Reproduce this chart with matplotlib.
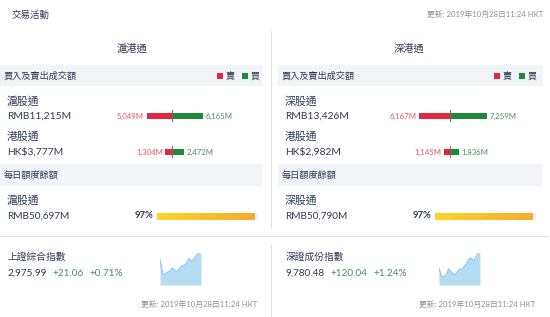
import matplotlib
matplotlib.use("Agg")
import matplotlib.pyplot as plt
import numpy as np
from matplotlib.patches import Rectangle
from matplotlib.lines import Line2D
from matplotlib.colors import LinearSegmentedColormap

plt.rcParams['font.family'] = ['Lato', 'Noto Sans CJK TC', 'DejaVu Sans']

# ---------------- data ----------------
title = "交易活動"
update_text = "更新: 2019年10月28日11:24 HKT"
panels = ["滬港通", "深港通"]
north_names = ["滬股通", "深股通"]
north_totals = ["RMB11,215M", "RMB13,426M"]
north_sell = [5049, 6167]
north_buy = [6165, 7259]
south_names = ["港股通", "港股通"]
south_totals = ["HK$3,777M", "HK$2,982M"]
south_sell = [1304, 1145]
south_buy = [2472, 1836]
quota_names = ["滬股通", "深股通"]
quota_totals = ["RMB50,697M", "RMB50,790M"]
quota_pct = [97, 97]
index_names = ["上證綜合指數", "深證成份指數"]
index_values = ["2,975.99", "9,780.48"]
index_change = ["+21.06", "+120.04"]
index_pct = ["+0.71%", "+1.24%"]
sse_series = [2971.3, 2959.9, 2959.0, 2960.8, 2961.4, 2964.4, 2962.6, 2961.4, 2963.8,
              2966.2, 2966.8, 2968.6, 2972.2, 2970.4, 2971.6, 2975.2, 2976.4, 2975.8]
szse_series = [9714.9, 9686.8, 9677.4, 9680.6, 9689.9, 9714.9, 9702.4, 9693.0, 9686.8,
               9696.2, 9705.5, 9714.9, 9711.8, 9727.4, 9736.7, 9755.4, 9764.8, 9755.4,
               9752.3, 9771.0, 9783.5, 9780.4]
spark_base = [2950, 9640]
band_labels = ["買入及賣出成交額", "每日額度餘額"]
legend_labels = ["賣", "買"]

# ---------------- style ----------------
W, H = 550, 317
TXT = "#2e3b52"
GRAY = "#8b9099"
RED = "#e5263f"
GREEN = "#1f8a3b"
RED_T = "#e8546a"
GREEN_T = "#4b8f5c"
BAND = "#f2f5f8"
LINE = "#dde3ea"

fig = plt.figure(figsize=(W / 100, H / 100), dpi=100)
fig.patch.set_facecolor("white")


def fx(x):
    return x / W


def fy(y):
    return 1 - y / H


def text(x, y, s, size=7, color=TXT, ha="left", weight="normal"):
    fig.text(fx(x), fy(y), s, fontsize=size, color=color, ha=ha, va="center",
             fontweight=weight)


def rect(x0, y0, x1, y1, color):
    fig.patches.append(Rectangle((fx(x0), fy(y1)), fx(x1) - fx(x0), fy(y0) - fy(y1),
                                 transform=fig.transFigure, facecolor=color,
                                 edgecolor="none", zorder=0))


def hline(x0, x1, y):
    fig.lines.append(Line2D([fx(x0), fx(x1)], [fy(y), fy(y)], transform=fig.transFigure,
                            color=LINE, lw=0.8))


def vline(x, y0, y1):
    fig.lines.append(Line2D([fx(x), fx(x)], [fy(y0), fy(y1)], transform=fig.transFigure,
                            color=LINE, lw=0.8))


def axes_px(x0, y0, x1, y1):
    ax = fig.add_axes([fx(x0), fy(y1), fx(x1) - fx(x0), fy(y0) - fy(y1)])
    ax.set_axis_off()
    return ax


text(12, 15, title, size=6.8)
text(543, 14, update_text, size=5.6, color=GRAY, ha="right")

vline(271, 31, 228)
hline(0, 548, 236)
vline(271, 245, 317)

cmap = LinearSegmentedColormap.from_list("gy", ["#fbd52b", "#f7aa2f"])

for p in range(2):
    ox = 0 if p == 0 else 278
    bx1 = 263 if p == 0 else 543
    cx = 132 if p == 0 else 409
    text(cx, 49, panels[p], size=7.4, ha="center")

    # band 1
    rect(ox, 65, bx1, 86, BAND)
    text(ox + 4, 76, band_labels[0], size=6.6)
    lx = 217 if p == 0 else 494
    rect(lx, 73, lx + 6, 79, RED)
    text(lx + 9, 76, legend_labels[0], size=6.5)
    rect(lx + 25, 73, lx + 31, 79, GREEN)
    text(lx + 34, 76, legend_labels[1], size=6.5)

    # flow rows
    centre = 172 if p == 0 else 450
    rows = [(north_names[p], north_totals[p], north_sell[p], north_buy[p], 101, 116),
            (south_names[p], south_totals[p], south_sell[p], south_buy[p], 136, 152)]
    for name, tot, sell, buy, yn, yv in rows:
        text(ox + 7, yn, name, size=7.8)
        text(ox + 7, yv, tot, size=7.4)
        ax = axes_px(centre - 50, yv - 6, centre + 50, yv + 6)
        ax.set_xlim(-9900, 9900)
        ax.set_ylim(-1, 1)
        ax.barh(0, -sell, height=1.0, color=RED, left=0)
        ax.barh(0, buy, height=1.0, color=GREEN, left=0)
        ax.plot([0, 0], [-0.95, 0.95], color="#6b6f76", lw=0.7)
        ax.text(-sell - 500, 0, f"{sell:,}M", color=RED_T, fontsize=5.6,
                ha="right", va="center")
        ax.text(buy + 500, 0, f"{buy:,}M", color=GREEN_T, fontsize=5.6,
                ha="left", va="center")

    # band 2
    rect(ox, 164, bx1, 186, BAND)
    text(ox + 4, 175, band_labels[1], size=6.6)
    text(ox + 7, 200, quota_names[p], size=7.8)
    text(ox + 7, 216, quota_totals[p], size=7.2)
    qx = 157 if p == 0 else 435
    text(qx - 4, 216, f"{quota_pct[p]}%", size=6.8, ha="right", weight="bold")
    ax = axes_px(qx, 213, qx + 101, 220)
    ax.barh(0.5, 100, height=1.0, color="#f0f1f3", left=0, zorder=1)
    grad = np.linspace(0, 1, 256).reshape(1, -1)
    ax.imshow(grad, extent=[0, quota_pct[p], 0, 1], aspect="auto", cmap=cmap,
              interpolation="bilinear", zorder=3)
    ax.set_xlim(0, 100)
    ax.set_ylim(0, 1)

    # index block
    ix = 7 if p == 0 else 286
    text(ix, 257, index_names[p], size=7.0)
    text(ix, 273, index_values[p], size=7.2)
    chx = 53 if p == 0 else 331
    pcx = 90 if p == 0 else 374
    text(chx, 273, index_change[p], size=7.2, color=GREEN_T)
    text(pcx, 273, index_pct[p], size=7.2, color=GREEN_T)
    series = sse_series if p == 0 else szse_series
    sx0 = 160 if p == 0 else 439
    sx1 = 201 if p == 0 else 480
    ax = axes_px(sx0, 252, sx1, 285)
    xs = np.arange(len(series))
    ax.fill_between(xs, spark_base[p], series, color="#b5dcf2", lw=0)
    ax.plot(xs, series, color="#93cdee", lw=1.0)
    ax.set_xlim(0, len(series) - 1)
    top = max(series)
    ax.set_ylim(spark_base[p], top + (top - spark_base[p]) * 0.06)
    ux = 257 if p == 0 else 535
    text(ux, 304, update_text, size=5.6, color=GRAY, ha="right")

fig.savefig("out.png", dpi=100, facecolor="white")
